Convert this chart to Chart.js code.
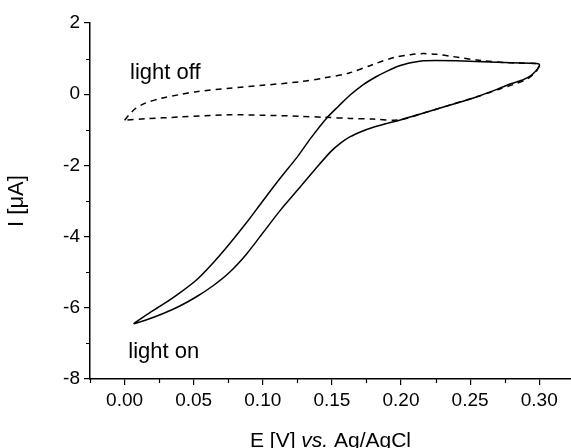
<!DOCTYPE html>
<html>
<head>
<meta charset="utf-8">
<script src="https://cdn.jsdelivr.net/npm/chart.js@4.4.0/dist/chart.umd.min.js"></script>
<style>
body { margin: 0; background: #fff; }
</style>
</head>
<body>
<canvas id="myChart" width="571" height="448"></canvas>
<script>
// cyclic voltammograms, E in V vs Ag/AgCl, I in uA
var offE = [0.000, 0.004, 0.008, 0.015, 0.026, 0.040, 0.052, 0.076, 0.100, 0.127, 0.145, 0.163, 0.180, 0.195, 0.207, 0.216, 0.226, 0.237, 0.259, 0.280, 0.298, 0.300,
            0.299, 0.297, 0.291, 0.282, 0.271, 0.255, 0.235, 0.217, 0.199, 0.180, 0.163, 0.145, 0.127, 0.100, 0.075, 0.040, 0.015, 0.000];
var offI = [-0.73, -0.55, -0.40, -0.25, -0.12, -0.01, 0.07, 0.17, 0.25, 0.35, 0.46, 0.60, 0.84, 1.03, 1.11, 1.14, 1.12, 1.06, 0.94, 0.88, 0.86, 0.83,
            0.72, 0.60, 0.42, 0.28, 0.14, -0.07, -0.31, -0.52, -0.72, -0.70, -0.68, -0.65, -0.62, -0.59, -0.58, -0.64, -0.69, -0.73];

var onE = [0.0065, 0.015, 0.028, 0.040, 0.052, 0.064, 0.076, 0.088, 0.100, 0.112, 0.125, 0.135, 0.146, 0.155, 0.163, 0.172, 0.182, 0.190, 0.199, 0.208, 0.216, 0.225, 0.240, 0.259, 0.280, 0.298, 0.300,
           0.300, 0.298, 0.294, 0.288, 0.280, 0.271, 0.255, 0.235, 0.217, 0.199, 0.190, 0.180, 0.172, 0.163, 0.156, 0.149, 0.137, 0.125, 0.1125, 0.100, 0.088, 0.076, 0.064, 0.052, 0.040, 0.028, 0.015, 0.0065];
var onI = [-6.45, -6.22, -5.90, -5.58, -5.22, -4.74, -4.20, -3.62, -3.00, -2.39, -1.76, -1.22, -0.68, -0.33, -0.03, 0.25, 0.49, 0.65, 0.80, 0.89, 0.94, 0.95, 0.94, 0.91, 0.88, 0.86, 0.84,
           0.78, 0.67, 0.52, 0.40, 0.30, 0.16, -0.07, -0.31, -0.52, -0.73, -0.82, -0.93, -1.04, -1.20, -1.38, -1.62, -2.15, -2.70, -3.27, -3.90, -4.50, -5.00, -5.38, -5.69, -5.95, -6.16, -6.35, -6.45];

var xTicks = [0.00, 0.05, 0.10, 0.15, 0.20, 0.25, 0.30];
var xMinor = [-0.025, 0.025, 0.075, 0.125, 0.175, 0.225, 0.275];
var yTicks = [-8, -6, -4, -2, 0, 2];
var yMinor = [-7, -5, -3, -1, 1];

function pts(xs, ys) {
    return xs.map(function (x, i) { return { x: x, y: ys[i] }; });
}

var FONT = '"Liberation Sans", Arial, sans-serif';

// minor ticks, curve labels and the x title (italic "vs.")
var extras = {
    id: 'extras',
    afterDraw: function (chart) {
        var ctx = chart.ctx;
        var xs = chart.scales.x, ys = chart.scales.y;
        var area = chart.chartArea;
        ctx.save();
        ctx.strokeStyle = '#000';
        ctx.lineWidth = 1.2;
        ctx.beginPath();
        xMinor.forEach(function (v) {
            var p = Math.round(xs.getPixelForValue(v)) + 0.5;
            ctx.moveTo(p, area.bottom);
            ctx.lineTo(p, area.bottom + 4);
        });
        yMinor.forEach(function (v) {
            var p = Math.round(ys.getPixelForValue(v)) + 0.5;
            ctx.moveTo(area.left, p);
            ctx.lineTo(area.left - 4, p);
        });
        ctx.stroke();

        ctx.fillStyle = '#000';
        ctx.textBaseline = 'alphabetic';
        ctx.font = '22px ' + FONT;
        ctx.fillText('light off', xs.getPixelForValue(0.004), ys.getPixelForValue(0.44));
        ctx.fillText('light on', xs.getPixelForValue(0.0027), ys.getPixelForValue(-7.42));

        var parts = [['E [V] ', 'normal'], ['vs.', 'italic'], [' Ag/AgCl', 'normal']];
        var total = 0;
        parts.forEach(function (p) {
            ctx.font = p[1] + ' 21px ' + FONT;
            p.push(ctx.measureText(p[0]).width);
            total += p[2];
        });
        var x = (area.left + area.right) / 2 - total / 2;
        parts.forEach(function (p) {
            ctx.font = p[1] + ' 21px ' + FONT;
            ctx.fillText(p[0], x, 447);
            x += p[2];
        });
        ctx.restore();
    }
};

var ctx = document.getElementById('myChart').getContext('2d');
var myChart = new Chart(ctx, {
    type: 'scatter',
    data: {
        datasets: [{
            label: 'light off',
            data: pts(offE, offI),
            showLine: true,
            borderColor: '#000',
            borderWidth: 1.5,
            borderDash: [6, 5],
            pointRadius: 0,
            tension: 0.3
        }, {
            label: 'light on',
            data: pts(onE, onI),
            showLine: true,
            borderColor: '#000',
            borderWidth: 1.5,
            pointRadius: 0,
            tension: 0.3
        }]
    },
    options: {
        responsive: false,
        animation: false,
        layout: { padding: { top: 23, right: 0, left: 0, bottom: 0 } },
        plugins: {
            legend: { display: false },
            tooltip: { enabled: false }
        },
        scales: {
            x: {
                type: 'linear',
                min: -0.025,
                max: 0.323,
                border: { color: '#000', width: 1.5 },
                grid: { drawOnChartArea: false, color: '#000', lineWidth: 1.2, tickLength: 6 },
                afterBuildTicks: function (s) { s.ticks = xTicks.map(function (v) { return { value: v }; }); },
                afterFit: function (s) { s.height = 69; },
                ticks: {
                    color: '#000',
                    padding: 4,
                    maxRotation: 0,
                    font: { family: FONT, size: 19 },
                    callback: function (v) { return v.toFixed(2); }
                }
            },
            y: {
                type: 'linear',
                min: -8,
                max: 2,
                border: { color: '#000', width: 1.5 },
                grid: { drawOnChartArea: false, color: '#000', lineWidth: 1.2, tickLength: 6 },
                afterBuildTicks: function (s) { s.ticks = yTicks.map(function (v) { return { value: v }; }); },
                afterFit: function (s) { s.width = 90; },
                ticks: {
                    color: '#000',
                    padding: 4,
                    font: { family: FONT, size: 19 },
                    callback: function (v) { return String(v); }
                },
                title: {
                    display: true,
                    text: 'I [\u03bcA]',
                    color: '#000',
                    padding: { top: 4, bottom: 0 },
                    font: { family: FONT, size: 22 }
                }
            }
        }
    },
    plugins: [extras]
});
</script>
</body>
</html>
